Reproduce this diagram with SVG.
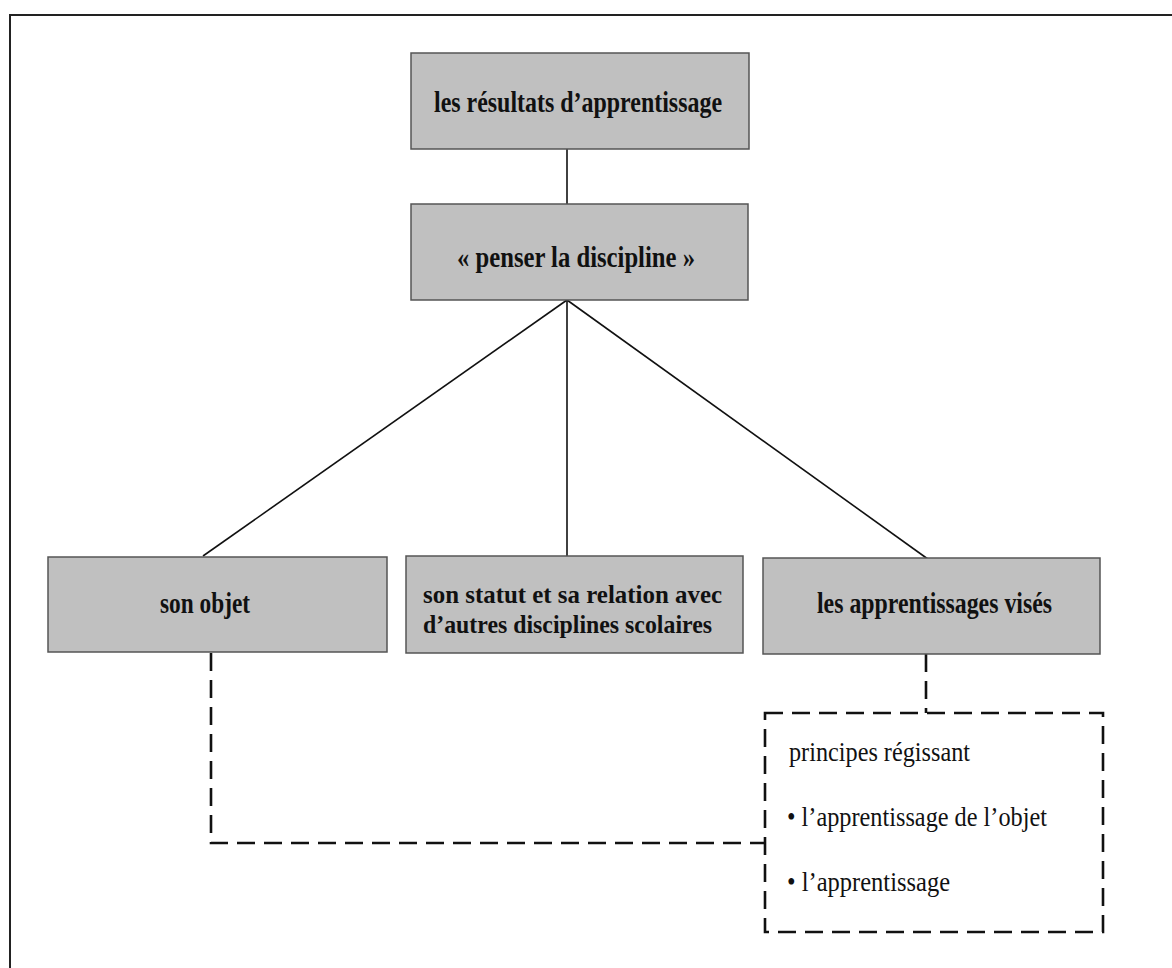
<svg xmlns="http://www.w3.org/2000/svg" width="1172" height="968" viewBox="0 0 1172 968">
<style>
.box{fill:#c0c0c0;stroke:#555;stroke-width:1.5}
.bt{font-family:"Liberation Serif",serif;font-weight:bold;font-size:29px;fill:#111}
.bt2{font-family:"Liberation Serif",serif;font-weight:bold;font-size:26px;fill:#111}
.rt{font-family:"Liberation Serif",serif;font-size:27px;fill:#111}
.ln{stroke:#111;stroke-width:1.6;fill:none}
.dl{stroke:#111;stroke-width:2.6;fill:none;stroke-dasharray:18 9}
</style>
<rect width="1172" height="968" fill="#fff"/>
<path d="M10,968 V15 H1172" stroke="#222" stroke-width="2" fill="none"/>
<g id="connectors">
<line class="ln" x1="567" y1="149" x2="567" y2="204"/>
<line class="ln" x1="567" y1="300" x2="203" y2="556"/>
<line class="ln" x1="567" y1="300" x2="567" y2="556"/>
<line class="ln" x1="567" y1="300" x2="932" y2="562"/>
<path class="dl" d="M926,654 V713"/>
<path class="dl" d="M211,653 V843 H765"/>
</g>
<g id="n1">
<rect class="box" x="411" y="53" width="338" height="96"/>
<text class="bt" x="434" y="112" textLength="288" lengthAdjust="spacingAndGlyphs">les résultats d’apprentissage</text>
</g>
<g id="n2">
<rect class="box" x="411" y="204" width="337" height="96"/>
<text class="bt" x="457" y="267" textLength="238" lengthAdjust="spacingAndGlyphs">« penser la discipline »</text>
</g>
<g id="n3">
<rect class="box" x="48" y="557" width="339" height="95"/>
<text class="bt" x="160" y="613" textLength="90" lengthAdjust="spacingAndGlyphs">son objet</text>
</g>
<g id="n4">
<rect class="box" x="406" y="556" width="337" height="97"/>
<text class="bt2" x="423" y="603" textLength="299" lengthAdjust="spacingAndGlyphs">son statut et sa relation avec</text>
<text class="bt2" x="423" y="633" textLength="289" lengthAdjust="spacingAndGlyphs">d’autres disciplines scolaires</text>
</g>
<g id="n5">
<rect class="box" x="763" y="558" width="337" height="96"/>
<text class="bt" x="817" y="613" textLength="235" lengthAdjust="spacingAndGlyphs">les apprentissages visés</text>
</g>
<g id="n6">
<rect class="dl" x="765" y="713" width="338" height="219"/>
<text class="rt" x="789" y="761" textLength="181" lengthAdjust="spacingAndGlyphs">principes régissant</text>
<text class="rt" x="787" y="826" textLength="260" lengthAdjust="spacingAndGlyphs">• l’apprentissage de l’objet</text>
<text class="rt" x="787" y="891" textLength="163" lengthAdjust="spacingAndGlyphs">• l’apprentissage</text>
</g>
</svg>
